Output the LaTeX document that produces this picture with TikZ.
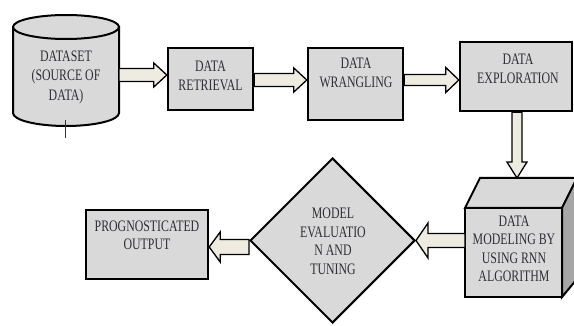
\documentclass[tikz,border=0pt]{standalone}
\usepackage{fontspec}
\setmainfont{Liberation Serif}[FakeStretch=0.74]
\usetikzlibrary{calc,shapes.geometric}
\definecolor{boxgray}{HTML}{D9D9D9}
\definecolor{arrfill}{HTML}{EEECE1}
\definecolor{sidegray}{HTML}{A6A6A6}
\definecolor{txtc}{HTML}{2E2E36}
% horizontal block arrow: start, tip, shaft half, head half, signed head length
\newcommand\harrow[5]{\draw[barrow] let \p1=(#1),\p2=(#2) in
  (\x1,{\y2+#3pt}) -- ({\x2-(#5pt)},{\y2+#3pt}) -- ({\x2-(#5pt)},{\y2+#4pt}) -- (\x2,\y2)
  -- ({\x2-(#5pt)},{\y2-#4pt}) -- ({\x2-(#5pt)},{\y2-#3pt}) -- (\x1,{\y2-#3pt}) -- cycle;}
% vertical (downward) block arrow
\newcommand\varrow[5]{\draw[barrow] let \p1=(#1),\p2=(#2) in
  ({\x2-#3pt},\y1) -- ({\x2-#3pt},{\y2+#5pt}) -- ({\x2-#4pt},{\y2+#5pt}) -- (\x2,\y2)
  -- ({\x2+#4pt},{\y2+#5pt}) -- ({\x2+#3pt},{\y2+#5pt}) -- ({\x2+#3pt},\y1) -- cycle;}
\begin{document}
\begin{tikzpicture}[x=1pt,y=-1pt,
  box/.style={draw=black, line width=2.4pt, fill=boxgray, inner sep=0pt},
  ghost/.style={inner sep=0pt, outer sep=0pt},
  barrow/.style={draw=black, line width=1.3pt, fill=arrfill, line join=miter},
  cylst/.style={draw=black, line width=2pt, fill=boxgray},
  facest/.style={draw=black, line width=2pt, line join=miter},
  txt/.style={align=center, font=\fontsize{16}{18.5}\selectfont, text=txtc, inner sep=0pt}]
\useasboundingbox (0,0) rectangle (574,326);
\clip (0,0) rectangle (574,326);

% cylinder (dataset)
\node[ghost, minimum width=106, minimum height=112] (cyl) at (66,70) {};
\draw[cylst] (13,27) -- (13,113) arc[start angle=180, end angle=360, x radius=53pt, y radius=13pt] -- (119,27) -- cycle;
\draw[cylst] (66,27) ellipse [x radius=53pt, y radius=12pt];
\coordinate (tk1) at (65,120);
\coordinate (tk2) at (65,138);
\draw[line width=0.9pt, draw=black!80] (tk1) -- (tk2);
\node[txt, font=\fontsize{16}{19.5}\selectfont] (cylt) at (66,77) {DATASET\\(SOURCE OF\\DATA)};

% boxes
\node[box, minimum width=85, minimum height=62] (ret) at (210.5,79) {};
\node[txt] (rett) at (210.5,76) {DATA\\RETRIEVAL};
\node[box, minimum width=95, minimum height=72] (wra) at (355.5,84) {};
\node[txt] (wrat) at (356,73) {DATA\\WRANGLING};
\node[box, minimum width=112, minimum height=69] (exp) at (516,76.5) {};
\node[txt] (expt) at (518,69) {DATA\\EXPLORATION};

% cube (data modeling)
\path node[ghost, minimum width=97, minimum height=89] (cube) at (513.5,252.5) {};
\draw[facest, fill=boxgray] (cube.north west) -- ++(15,-30) -- ++(97,0) -- (cube.north east) -- cycle;
\draw[facest, fill=sidegray] (cube.north east) -- ++(15,-30) -- ++(0,101) -- (cube.south east) -- cycle;
\draw[box] (cube.north west) rectangle (cube.south east);
\node[txt] (cubet) at (514,249) {DATA\\MODELING BY\\USING RNN\\ALGORITHM};

% diamond
\node[diamond, draw=black, line width=2pt, fill=boxgray, inner sep=0pt, minimum width=165, minimum height=165] (dia) at (332.5,240.5) {};
\node[txt] (diat) at (333,241.5) {MODEL\\EVALUATIO\\N AND\\TUNING};

% output
\node[box, minimum width=122, minimum height=69] (out) at (147,244.5) {};
\node[txt] (outt) at (147,235.5) {PROGNOSTICATED\\OUTPUT};

% block arrows
\coordinate (a1s) at (cyl.east |- 0,75);
\coordinate (a1e) at (ret.west |- 0,75);
\harrow{a1s}{a1e}{6.5}{12}{13}
\coordinate (a2s) at (ret.east |- 0,80);
\coordinate (a2e) at (wra.west |- 0,80);
\harrow{a2s}{a2e}{6.5}{12}{13}
\coordinate (a3s) at (wra.east |- 0,80);
\coordinate (a3e) at (exp.west |- 0,80);
\harrow{a3s}{a3e}{5.5}{12.5}{13}
\coordinate (a4s) at (517,0 |- exp.south);
\coordinate (a4e) at (517,178);
\varrow{a4s}{a4e}{5}{10}{16}
\coordinate (a5s) at (cube.west |- 0,240.5);
\harrow{a5s}{dia.east}{7}{17.5}{-12}
\coordinate (a6s) at (dia.west |- 0,247);
\coordinate (a6e) at (out.east |- 0,247);
\harrow{a6s}{a6e}{7.5}{15}{-11}
\end{tikzpicture}
\end{document}
